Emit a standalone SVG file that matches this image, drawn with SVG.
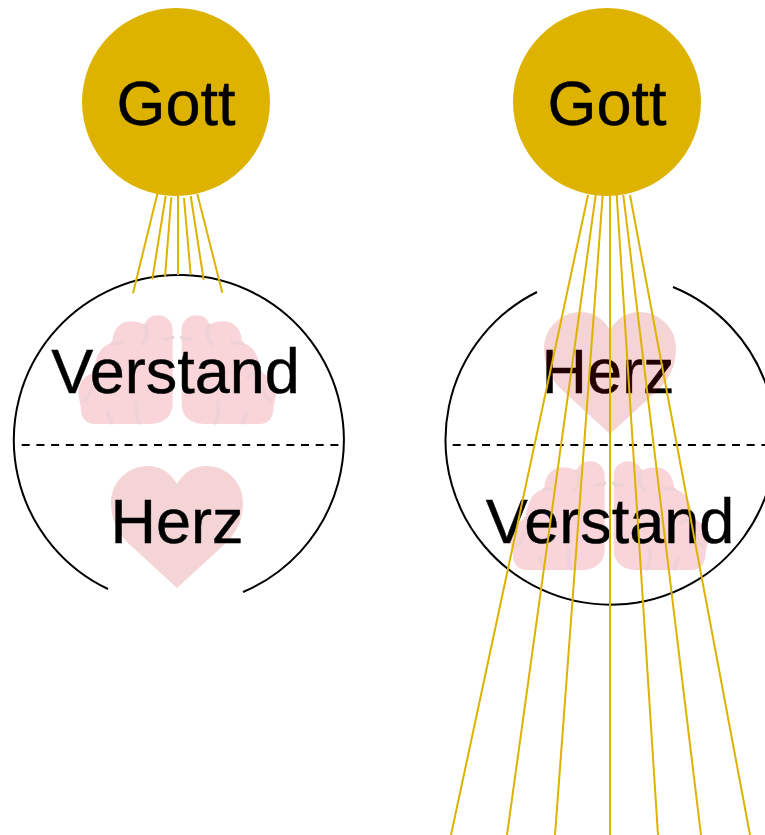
<svg xmlns="http://www.w3.org/2000/svg" width="765" height="835" viewBox="0 0 765 835">
<style>
.god{fill:#ddb300}
.t{font-family:"Liberation Sans",Arial,sans-serif;font-size:63px;fill:#000;stroke:#000;stroke-width:.45;text-anchor:middle}
.arc{fill:none;stroke:#000;stroke-width:2}
.dash{fill:none;stroke:#000;stroke-width:2;stroke-dasharray:8 6.7}
.ray{fill:none;stroke:#ddb300;stroke-width:2}
.heart{fill:#c00000;fill-opacity:.17}
.lobe{fill:#f9d5da}
.wr{fill:none;stroke:#efd2d5;stroke-width:11;stroke-linecap:round}
</style>
<defs>
<g id="hemi">
<path class="lobe" d="M338,90C338,65 320,46 295,46C275,46 260,55 254,74C240,66 225,64 210,64C180,64 157,90 157,128C125,135 105,165 100,218C70,228 55,250 55,280C55,295 60,305 62,320C62,350 75,372 105,372L270,372C310,372 338,350 338,310Z"/>
<path class="wr" d="M254,76C266,95 262,115 248,132M157,130C168,132 178,130 188,125M312,117C322,118 330,116 338,112M100,218C115,218 128,222 140,232M96,262C92,278 85,292 72,302M230,308C226,330 228,352 238,368M142,336C148,348 152,358 155,368"/>
</g>
<path id="heartShape" d="M177,588L128,543C116,531 111,517 111,503C111,482 128,466 148,466C160,466 170,472 177,484C184,472 194,466 206,466C227,466 243,482 243,503C243,517 238,531 226,543Z"/>
</defs>
<g id="left-soul">
<path class="arc" d="M108,589A165,165 0 1 1 243,592"/>
<path class="dash" d="M21.7,445H344"/>
</g>
<g id="left-brain" transform="translate(60,300) scale(.3333)">
<use href="#hemi"/><use href="#hemi" transform="translate(703,0) scale(-1,1)"/>
</g>
<g id="left-heart"><use href="#heartShape" class="heart"/></g>
<g id="left-verstand"><text class="t" x="175.5" y="392.7">Verstand</text></g>
<g id="left-herz"><text class="t" x="177" y="543.3">Herz</text></g>
<g id="right-soul">
<path class="arc" d="M537,292A165,165 0 1 0 673,287"/>
<path class="dash" d="M452.7,445H765"/>
</g>
<g id="right-brain" transform="translate(492,446) scale(.3333)">
<use href="#hemi"/><use href="#hemi" transform="translate(703,0) scale(-1,1)"/>
</g>
<g id="right-verstand"><text class="t" x="610" y="543.3">Verstand</text></g>
<g id="right-herz"><text class="t" x="608" y="392.7">Herz</text></g>
<g id="right-heart"><use href="#heartShape" class="heart" transform="translate(433,-154)"/></g>
<g id="gott-left"><circle class="god" cx="176" cy="102" r="94"/><text class="t" x="176" y="125">Gott</text></g>
<g id="gott-right"><circle class="god" cx="607" cy="102" r="94"/><text class="t" x="607" y="125">Gott</text></g>
<g id="connectors">
<path class="ray" d="M157.3,194L133,293.3M165.7,196L152.3,279.3M171.3,197.3L165,276.7M178,196V275M184,198L190.7,275M190.7,196L203.7,280M197.3,194L222.3,292.7"/>
<path class="ray" d="M588,195L451,835M595.7,195L507,835M602.7,195L555,835M610,195V835M616.7,195L658,835M623.3,195L701,835M630,195L750,835"/>
</g>
</svg>
